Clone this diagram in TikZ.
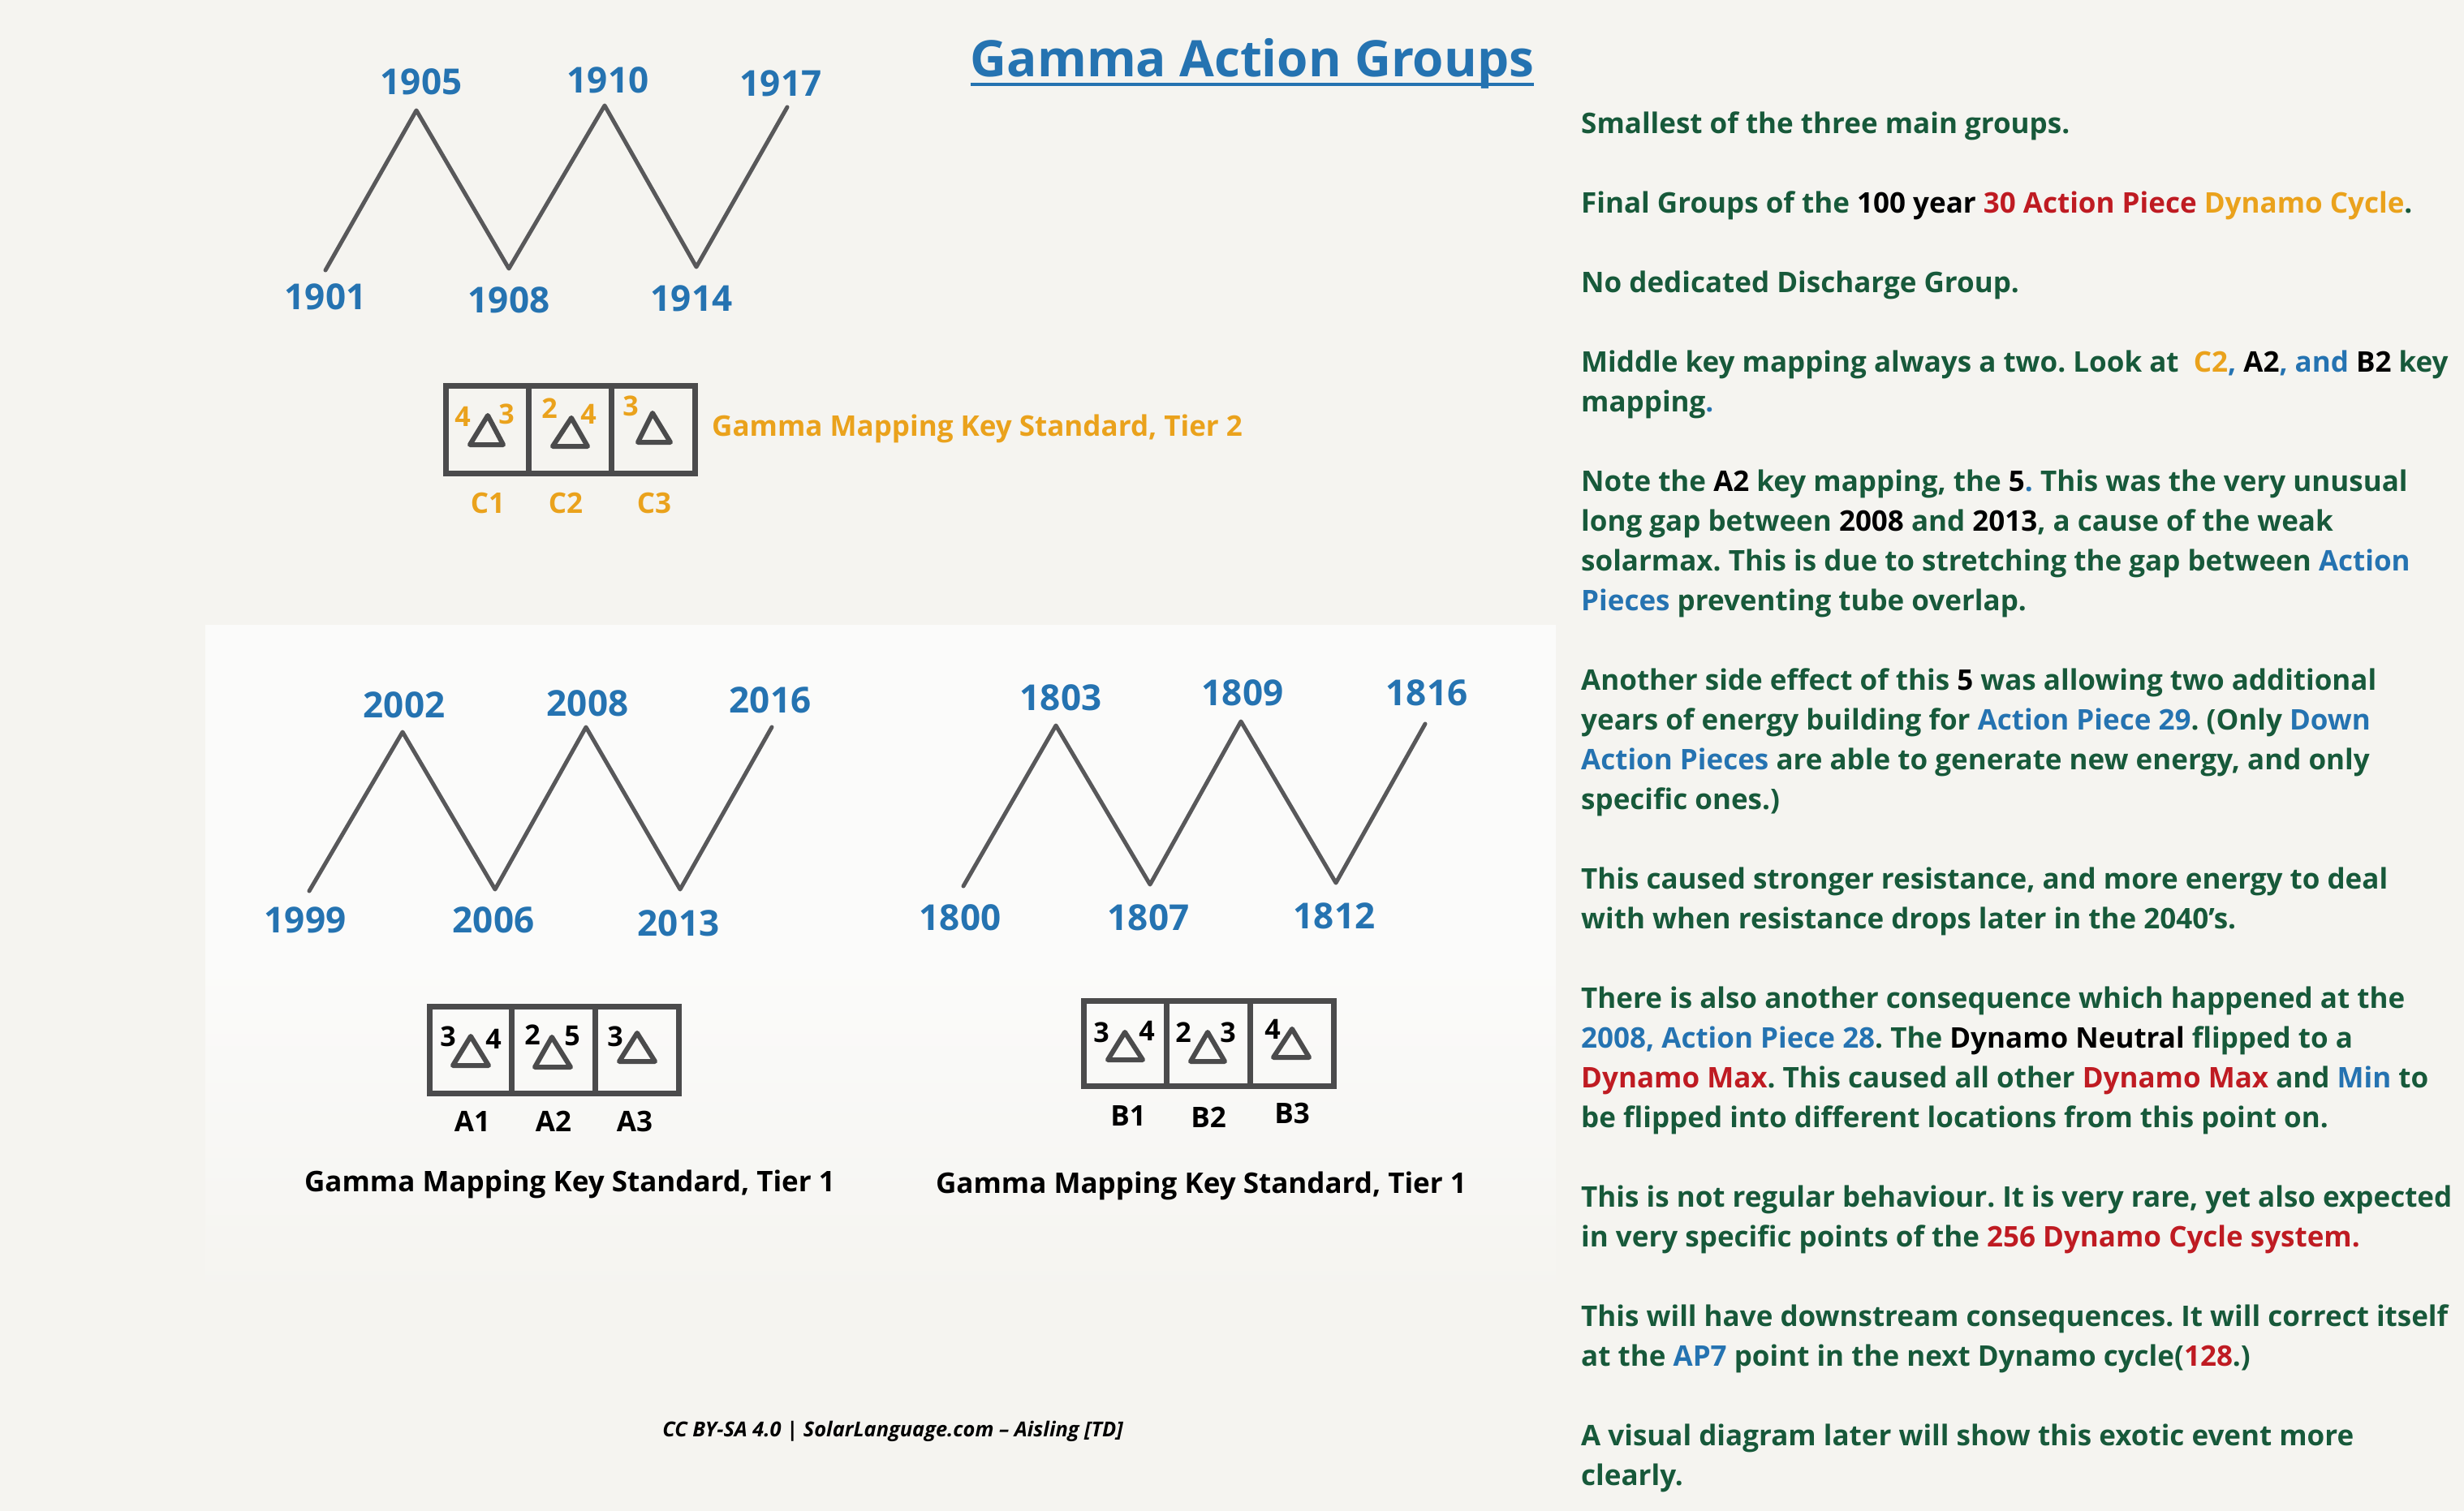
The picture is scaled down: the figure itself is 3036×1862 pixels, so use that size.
\documentclass[tikz,border=0pt]{standalone}
\usepackage{fontspec}
\IfFontExistsTF{Noto Sans Bold}{%
  \setmainfont{Noto Sans}[BoldFont={Noto Sans Bold}, BoldItalicFont={Noto Sans Bold Italic}]%
}{%
  \IfFontExistsTF{Open Sans Bold}{%
    \setmainfont{Open Sans}[BoldFont={Open Sans Bold}, BoldItalicFont={Open Sans Bold Italic}]%
  }{%
    \setmainfont{Noto Sans}[BoldFont={Noto Sans}, BoldFeatures={FakeBold=2}, BoldItalicFont={Noto Sans Italic}, BoldItalicFeatures={FakeBold=2}]%
  }%
}
\definecolor{paper}{HTML}{F5F4F0}
\definecolor{paperw}{HTML}{FBFBFA}
\definecolor{tblue}{HTML}{2573B1}
\definecolor{tgreen}{HTML}{17593A}
\definecolor{tred}{HTML}{BF1B22}
\definecolor{torange}{HTML}{EAA21C}
\definecolor{pencil}{HTML}{58585A}
\newcommand{\cB}[1]{\textcolor{tblue}{#1}}
\newcommand{\cR}[1]{\textcolor{tred}{#1}}
\newcommand{\cO}[1]{\textcolor{torange}{#1}}
\newcommand{\cK}[1]{\textcolor{black}{#1}}
\tikzset{
  zig/.style={draw=pencil, line width=5pt, line join=round, line cap=round},
  keybox/.style={draw=pencil!85!black, line width=7pt},
  tri/.style={draw=pencil!85!black, line width=6pt, line join=round},
  year/.style={inner sep=0pt, text=tblue, font=\fontsize{44}{44}\selectfont\bfseries},
  keynum/.style={inner sep=0pt, font=\fontsize{34}{34}\selectfont\bfseries},
  keylab/.style={inner sep=0pt, font=\fontsize{35}{35}\selectfont\bfseries},
  caption/.style={inner sep=0pt, font=\fontsize{35}{35}\selectfont\bfseries},
}
\begin{document}
\begin{tikzpicture}[x=1pt,y=-1pt]
\useasboundingbox (0,0) rectangle (3036,1862);
\fill[paper] (0,0) rectangle (3036,1862);
\shade[top color=paperw, bottom color=paper, middle color=paperw] (253,770) rectangle (1917,1600);

% title
\node[inner sep=0pt, anchor=base, text=tblue, font=\fontsize{62}{62}\selectfont\bfseries] (title) at (1543,95) {Gamma Action Groups};
\draw[tblue, line width=4pt] ([yshift=-9pt]title.base west) -- ([yshift=-9pt]title.base east);

% ---- top zigzag (Tier 2)
\coordinate (t1) at (401,333); \coordinate (t2) at (513,136); \coordinate (t3) at (627,331);
\coordinate (t4) at (745,130); \coordinate (t5) at (858,329); \coordinate (t6) at (970,132);
\draw[zig] (t1) -- (t2) -- (t3) -- (t4) -- (t5) -- (t6);
\node[year] (y1905) at (519,101) {1905};
\node[year] (y1910) at (749,99) {1910};
\node[year] (y1917) at (962,103) {1917};
\node[year] (y1901) at (401,366) {1901};
\node[year] (y1908) at (627,370) {1908};
\node[year] (y1914) at (852,368) {1914};

% Tier 2 key
\draw[keybox] (549,475) rectangle (856,583);
\draw[keybox] (651,475) -- (651,583);
\draw[keybox] (753,475) -- (753,583);
\draw[tri] (601,512) -- (579,548) -- (620,548) -- cycle;
\draw[tri] (704,515) -- (681,550) -- (724,550) -- cycle;
\draw[tri] (804,509) -- (786,545) -- (826,545) -- cycle;
\node[keynum, text=torange] (c1a) at (570,513) {4};
\node[keynum, text=torange] (c1b) at (624,510) {3};
\node[keynum, text=torange] (c2a) at (677,503) {2};
\node[keynum, text=torange] (c2b) at (725,510) {4};
\node[keynum, text=torange] (c3a) at (777,500) {3};
\node[keylab, text=torange] (C1) at (601,620) {C1};
\node[keylab, text=torange] (C2) at (697,620) {C2};
\node[keylab, text=torange] (C3) at (806,620) {C3};
\node[caption, text=torange, anchor=base west] (cap2) at (877,537) {Gamma Mapping Key Standard, Tier 2};

% ---- bottom-left zigzag
\coordinate (a1) at (381,1098); \coordinate (a2) at (496,902); \coordinate (a3) at (610,1096);
\coordinate (a4) at (722,896); \coordinate (a5) at (838,1096); \coordinate (a6) at (951,896);
\draw[zig] (a1) -- (a2) -- (a3) -- (a4) -- (a5) -- (a6);
\node[year] (y2002) at (498,869) {2002};
\node[year] (y2008) at (724,867) {2008};
\node[year] (y2016) at (949,863) {2016};
\node[year] (y1999) at (376,1134) {1999};
\node[year] (y2006) at (608,1134) {2006};
\node[year] (y2013) at (836,1138) {2013};

% A key
\draw[keybox] (529,1240) rectangle (836,1347);
\draw[keybox] (630,1240) -- (630,1347);
\draw[keybox] (733,1240) -- (733,1347);
\draw[tri] (580,1277) -- (558,1313) -- (602,1313) -- cycle;
\draw[tri] (680,1278) -- (659,1315) -- (703,1315) -- cycle;
\draw[tri] (785,1273) -- (763,1308) -- (807,1308) -- cycle;
\node[keynum] (a1a) at (552,1277) {3};
\node[keynum] (a1b) at (608,1280) {4};
\node[keynum] (a2a) at (656,1275) {2};
\node[keynum] (a2b) at (705,1277) {5};
\node[keynum] (a3a) at (758,1277) {3};
\node[keylab] (A1) at (582,1382) {A1};
\node[keylab] (A2) at (682,1382) {A2};
\node[keylab] (A3) at (782,1382) {A3};
\node[caption, anchor=base] (capA) at (702,1468) {Gamma Mapping Key Standard, Tier 1};

% ---- bottom-right zigzag
\coordinate (b1) at (1187,1092); \coordinate (b2) at (1301,894); \coordinate (b3) at (1417,1090);
\coordinate (b4) at (1529,889); \coordinate (b5) at (1646,1088); \coordinate (b6) at (1756,892);
\draw[zig] (b1) -- (b2) -- (b3) -- (b4) -- (b5) -- (b6);
\node[year] (y1803) at (1307,860) {1803};
\node[year] (y1809) at (1531,854) {1809};
\node[year] (y1816) at (1758,854) {1816};
\node[year] (y1800) at (1183,1131) {1800};
\node[year] (y1807) at (1415,1131) {1807};
\node[year] (y1812) at (1644,1129) {1812};

% B key
\draw[keybox] (1335,1233) rectangle (1643,1338);
\draw[keybox] (1437,1233) -- (1437,1338);
\draw[keybox] (1540,1233) -- (1540,1338);
\draw[tri] (1386,1272) -- (1365,1306) -- (1408,1306) -- cycle;
\draw[tri] (1488,1272) -- (1467,1308) -- (1509,1308) -- cycle;
\draw[tri] (1592,1268) -- (1569,1303) -- (1613,1303) -- cycle;
\node[keynum] (b1a) at (1357,1272) {3};
\node[keynum] (b1b) at (1413,1270) {4};
\node[keynum] (b2a) at (1458,1272) {2};
\node[keynum] (b2b) at (1513,1272) {3};
\node[keynum] (b3a) at (1568,1268) {4};
\node[keylab] (B1) at (1390,1375) {B1};
\node[keylab] (B2) at (1489,1377) {B2};
\node[keylab] (B3) at (1592,1372) {B3};
\node[caption, anchor=base] (capB) at (1480,1470) {Gamma Mapping Key Standard, Tier 1};

% footer
\node[inner sep=0pt, anchor=base, font=\fontsize{25.4}{25.4}\selectfont\bfseries\itshape] (footer) at (1100,1770) {CC BY-SA 4.0 | SolarLanguage.com – Aisling [TD]};

% right-hand text
\node[inner sep=0pt, anchor=base west, text=tgreen] (body) at (1948,165) {\parbox[t]{1100pt}{\raggedright\frenchspacing\fontsize{35}{49}\selectfont\bfseries
Smallest of the three main groups.\\[49pt]
Final Groups of the \cK{100 year} \cR{30 Action Piece} \cO{Dynamo Cycle}.\\[49pt]
No dedicated Discharge Group.\\[49pt]
Middle key mapping always a two. Look at \ \cO{C2}\cB{,} \cK{A2}\cB{, and} \cK{B2} key\\
mapping\cB{.}\\[49pt]
Note the \cK{A2} key mapping, the \cK{5}\cB{.} This was the very unusual\\
long gap between \cK{2008} and \cK{2013}, a cause of the weak\\
solarmax. This is due to stretching the gap between \cB{Action}\\
\cB{Pieces} preventing tube overlap.\\[49pt]
Another side effect of this \cK{5} was allowing two additional\\
years of energy building for \cB{Action Piece 29}. (Only \cB{Down}\\
\cB{Action Pieces} are able to generate new energy, and only\\
specific ones.)\\[49pt]
This caused stronger resistance, and more energy to deal\\
with when resistance drops later in the 2040's.\\[49pt]
There is also another consequence which happened at the\\
\cB{2008, Action Piece 28}. The \cK{Dynamo Neutral} flipped to a\\
\cR{Dynamo Max}. This caused all other \cR{Dynamo Max} and \cB{Min} to\\
be flipped into different locations from this point on.\\[49pt]
This is not regular behaviour. It is very rare, yet also expected\\
in very specific points of the \cR{256 Dynamo Cycle system.}\\[49pt]
This will have downstream consequences. It will correct itself\\
at the \cB{AP7} point in the next Dynamo cycle(\cR{128}.)\\[49pt]
A visual diagram later will show this exotic event more\\
clearly.}};
\end{tikzpicture}
\end{document}
